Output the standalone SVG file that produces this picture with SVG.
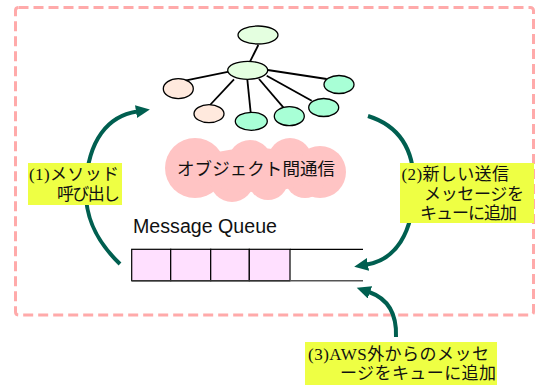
<svg xmlns="http://www.w3.org/2000/svg" width="536" height="385" viewBox="0 0 536 385">
<style>
.node{stroke:#000;stroke-width:1.3}
.g1{fill:#e4ffe0}
.pk{fill:#ffe9dd}
.gr{fill:#a8ffd6}
.edge{stroke:#000;stroke-width:1.8}
.arr{fill:none;stroke:#005f50;stroke-width:4}
.lbl{fill:#eeff44}
.jt{font-family:"Liberation Serif","Noto Sans CJK JP",serif;font-size:17px;fill:#111}
.cell{fill:#ffe0ff;stroke:#000;stroke-width:1.2}
</style>
<defs>
<marker id="ah" markerUnits="userSpaceOnUse" markerWidth="16" markerHeight="14" refX="1" refY="6.5" orient="auto">
<path d="M0,0 L14,6.5 L0,13 z" fill="#005f50"/>
</marker>
</defs>
<rect x="15.5" y="7.5" width="518" height="307.5" rx="3" fill="none" stroke="#ffaaaa" stroke-width="3" stroke-dasharray="10 5"/>
<g id="connectors">
<line class="edge" x1="258.3" y1="45" x2="250" y2="61.7"/>
<line class="edge" x1="229" y1="71.7" x2="185" y2="80.7"/>
<line class="edge" x1="234" y1="79.3" x2="210" y2="105"/>
<line class="edge" x1="247.3" y1="79.3" x2="250.7" y2="112.7"/>
<line class="edge" x1="259" y1="79" x2="283.3" y2="107.3"/>
<line class="edge" x1="266.7" y1="75.7" x2="311.7" y2="100.7"/>
<line class="edge" x1="267.7" y1="70" x2="326.7" y2="79"/>
<path class="arr" marker-end="url(#ah)" d="M120,264 C95,240 84,215 86,185 C88,140 108,116 137,111.5"/>
<path class="arr" marker-end="url(#ah)" d="M368,116 C400,126 414,150 414,185 C414,235 394,260 367,264.5"/>
<path class="arr" marker-end="url(#ah)" d="M396,337 C397,312 386,298 369,292"/>
</g>
<g id="n-top"><ellipse class="node g1" cx="258" cy="35" rx="20" ry="9"/></g>
<g id="n-center"><ellipse class="node g1" cx="247.7" cy="70.3" rx="20" ry="9"/></g>
<g id="n-p1"><ellipse class="node pk" cx="178.3" cy="88.7" rx="15" ry="10"/></g>
<g id="n-p2"><ellipse class="node pk" cx="209" cy="113.7" rx="15" ry="9"/></g>
<g id="n-g1"><ellipse class="node gr" cx="251.3" cy="121.3" rx="16" ry="9"/></g>
<g id="n-g2"><ellipse class="node gr" cx="289.3" cy="116.2" rx="15" ry="9.5"/></g>
<g id="n-g3"><ellipse class="node gr" cx="323.7" cy="107.5" rx="15" ry="9"/></g>
<g id="n-g4"><ellipse class="node gr" cx="339" cy="84.5" rx="15" ry="9"/></g>
<g id="cloud" fill="#ffc4c4">
<circle cx="195" cy="168" r="30"/>
<circle cx="250" cy="162" r="22"/>
<circle cx="290" cy="160" r="22"/>
<circle cx="320" cy="172" r="26"/>
<circle cx="232" cy="180" r="22"/>
<circle cx="268" cy="180" r="20"/>
<circle cx="305" cy="178" r="20"/>
<ellipse cx="255" cy="170" rx="65" ry="22"/>
<text x="256" y="175" text-anchor="middle" font-family="'Noto Sans CJK JP',sans-serif" font-size="17.5" fill="#111" textLength="158" lengthAdjust="spacing">オブジェクト間通信</text>
</g>
<g id="queue">
<text x="133" y="233" font-family="'Liberation Sans',Arial,sans-serif" font-size="19.5" fill="#111" textLength="144" lengthAdjust="spacingAndGlyphs">Message Queue</text>
<rect class="cell" x="131.7" y="249.3" width="39" height="31.4"/>
<rect class="cell" x="170.7" y="249.3" width="40" height="31.4"/>
<rect class="cell" x="210.7" y="249.3" width="38.6" height="31.4"/>
<rect class="cell" x="249.3" y="249.3" width="40.7" height="31.4"/>
<line x1="290" y1="249.3" x2="363" y2="249.3" stroke="#000" stroke-width="1.2"/>
<line x1="290" y1="280.7" x2="363" y2="280.7" stroke="#555" stroke-width="1.6"/>
<line x1="131.7" y1="280.7" x2="290" y2="280.7" stroke="#333" stroke-width="1.6"/>
</g>
<g id="label1">
<rect class="lbl" x="28" y="163" width="94" height="42"/>
<text class="jt" x="29" y="180" textLength="90" lengthAdjust="spacing">(1)メソッド</text>
<text class="jt" x="57" y="200" textLength="63" lengthAdjust="spacing">呼び出し</text>
</g>
<g id="label2">
<rect class="lbl" x="400" y="163" width="134" height="60"/>
<text class="jt" x="401.5" y="180" textLength="107.5" lengthAdjust="spacing">(2)新しい送信</text>
<text class="jt" x="424" y="200" textLength="100" lengthAdjust="spacing">メッセージを</text>
<text class="jt" x="420" y="218.5" textLength="97" lengthAdjust="spacing">キューに追加</text>
</g>
<g id="label3">
<rect class="lbl" x="305" y="342" width="192" height="43"/>
<text class="jt" x="308" y="360" textLength="181" lengthAdjust="spacing">(3)AWS外からのメッセ</text>
<text class="jt" x="340" y="378.5" textLength="156" lengthAdjust="spacing">ージをキューに追加</text>
</g>
</svg>
